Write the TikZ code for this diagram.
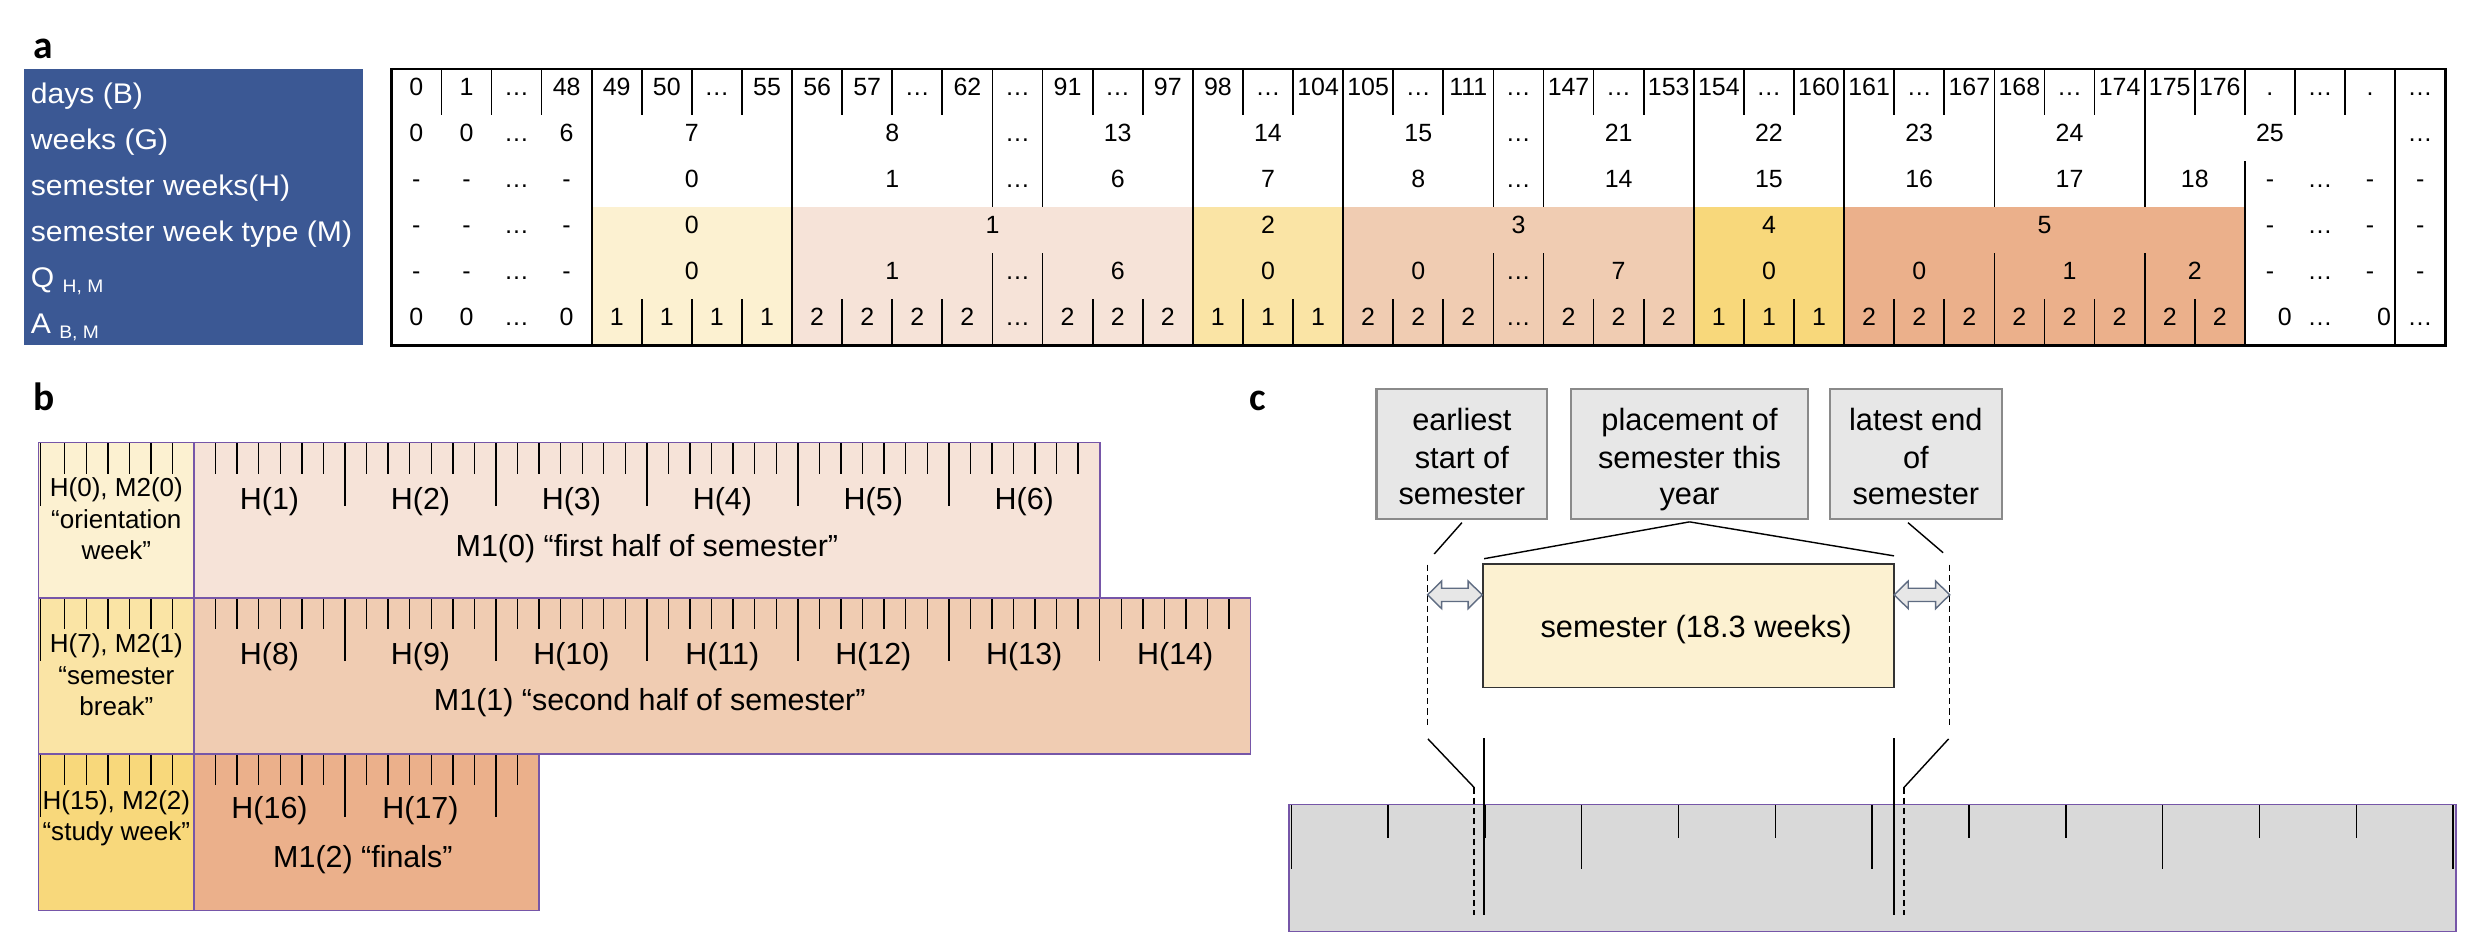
\documentclass[tikz,border=0pt]{standalone}
\usepackage{fontspec}
\setmainfont{Liberation Sans}
\newfontfamily\lblfont[FakeStretch=1.06]{Liberation Sans}
\newfontfamily\pnlfont{Carlito}
\definecolor{hdrblue}{RGB}{59,88,148}
\definecolor{cMa}{RGB}{252,241,209}
\definecolor{cMb}{RGB}{246,227,216}
\definecolor{cMc}{RGB}{250,228,165}
\definecolor{cMd}{RGB}{240,204,178}
\definecolor{cMe}{RGB}{248,216,123}
\definecolor{cMf}{RGB}{235,176,139}
\definecolor{rulerpurple}{RGB}{118,86,168}
\definecolor{boxgray}{RGB}{231,231,231}
\definecolor{boxedge}{RGB}{138,138,138}
\definecolor{rulergray}{RGB}{217,217,217}
\definecolor{arrowedge}{RGB}{95,108,130}
\begin{document}
\begin{tikzpicture}[x=1pt,y=-1pt,
  tline/.style={line width=1.1pt, black},
  cellt/.style={anchor=base, inner sep=0pt, font=\fontsize{15.8}{18}\selectfont},
  rowlbl/.style={anchor=base west, inner sep=0pt, text=white, font=\lblfont\fontsize{18}{20}\selectfont},
  plabel/.style={anchor=base west, inner sep=0pt, font=\pnlfont\bfseries\fontsize{25}{25}\selectfont},
  btxt/.style={anchor=base, inner sep=0pt, font=\fontsize{19.3}{22}\selectfont},
  bsmall/.style={anchor=base, inner sep=0pt, font=\fontsize{16.5}{20}\selectfont},
  daytick/.style={line width=0.9pt, black},
  stripedge/.style={draw=rulerpurple, line width=1pt},
  ctxt/.style={anchor=base, inner sep=0pt, font=\fontsize{19.5}{23}\selectfont},
  gbox/.style={draw=boxedge, fill=boxgray, line width=1.3pt, inner sep=0pt, rectangle},
  sembox/.style={draw=black!80, fill=cMa, line width=1pt, inner sep=0pt, rectangle},
  conn/.style={line width=0.9pt, black},
  dconn/.style={line width=0.8pt, black, dash pattern=on 4pt off 2.5pt},
  darrow/.style={fill=boxgray, draw=arrowedge, line width=0.9pt, line join=miter},
]
\useasboundingbox (0,0) rectangle (1568,594);
\def\W{31.75}
\def\TX{248}
\def\WW{95.667}
\def\DD{13.667}
% ---------------- panel a ----------------
\node[plabel] (pa) at (21,37) {a};
\fill[hdrblue] (15.2,43.7) rectangle (230.2,218.9);
\node[rowlbl] (l1) at (19.4,65.6) {days (B)};
\node[rowlbl] (l2) at (19.4,94.8) {weeks (G)};
\node[rowlbl] (l3) at (19.4,124) {semester weeks(H)};
\node[rowlbl] (l4) at (19.4,153.2) {semester week type (M)};
\node[rowlbl] (l5) at (19.4,182.4) {Q \raisebox{-3.2pt}{\fontsize{11.5}{12}\selectfont H, M}};
\node[rowlbl] (l6) at (19.4,211.6) {A \raisebox{-3.2pt}{\fontsize{11.5}{12}\selectfont B, M}};
% colour fills
\fill[cMa] ({\TX+4*\W},131.3) rectangle ({\TX+8*\W},218.9);
\fill[cMb] ({\TX+8*\W},131.3) rectangle ({\TX+16*\W},218.9);
\fill[cMc] ({\TX+16*\W},131.3) rectangle ({\TX+19*\W},218.9);
\fill[cMd] ({\TX+19*\W},131.3) rectangle ({\TX+26*\W},218.9);
\fill[cMe] ({\TX+26*\W},131.3) rectangle ({\TX+29*\W},218.9);
\fill[cMf] ({\TX+29*\W},131.3) rectangle ({\TX+37*\W},218.9);
% lines
\foreach \b in {4,8,16,19,26,29,40}
  \draw[tline] ({\TX+\b*\W},43.7) -- ({\TX+\b*\W},218.9);
\foreach \b in {12,13,22,23,32,35} {
  \draw[tline] ({\TX+\b*\W},43.7) -- ({\TX+\b*\W},131.3);
  \draw[tline] ({\TX+\b*\W},160.5) -- ({\TX+\b*\W},218.9);
}
\draw[tline] ({\TX+37*\W},43.7) -- ({\TX+37*\W},72.9);
\draw[tline] ({\TX+37*\W},102.1) -- ({\TX+37*\W},218.9);
\foreach \b in {1,2,3,38,39}
  \draw[tline] ({\TX+\b*\W},43.7) -- ({\TX+\b*\W},72.9);
\foreach \b in {5,6,7,9,10,11,14,15,17,18,20,21,24,25,27,28,30,31,33,34,36} {
  \draw[tline] ({\TX+\b*\W},43.7) -- ({\TX+\b*\W},72.9);
  \draw[tline] ({\TX+\b*\W},189.7) -- ({\TX+\b*\W},218.9);
}
\draw[line width=1.6pt] (\TX,43.7) rectangle ({\TX+41*\W},218.9);
% row texts
\foreach \t [count=\k from 0] in {0,1,…,48,49,50,…,55,56,57,…,62,…,91,…,97,98,…,104,105,…,111,…,147,…,153,154,…,160,161,…,167,168,…,174,175,176,.,…,.,…}
  \node[cellt] (d\k) at ({\TX+(\k+0.5)*\W},60.4) {\t};
\foreach \p/\t [count=\k] in {0.5/0,1.5/0,2.5/…,3.5/6,6/7,10/8,12.5/…,14.5/13,17.5/14,20.5/15,22.5/…,24.5/21,27.5/22,30.5/23,33.5/24,37.5/25,40.5/…}
  \node[cellt] (g\k) at ({\TX+\p*\W},89.6) {\t};
\foreach \p/\t [count=\k] in {0.5/-,1.5/-,2.5/…,3.5/-,6/0,10/1,12.5/…,14.5/6,17.5/7,20.5/8,22.5/…,24.5/14,27.5/15,30.5/16,33.5/17,36/18,37.5/-,38.5/…,39.5/-,40.5/-}
  \node[cellt] (h\k) at ({\TX+\p*\W},118.8) {\t};
\foreach \p/\t [count=\k] in {0.5/-,1.5/-,2.5/…,3.5/-,6/0,12/1,17.5/2,22.5/3,27.5/4,33/5,37.5/-,38.5/…,39.5/-,40.5/-}
  \node[cellt] (m\k) at ({\TX+\p*\W},148.0) {\t};
\foreach \p/\t [count=\k] in {0.5/-,1.5/-,2.5/…,3.5/-,6/0,10/1,12.5/…,14.5/6,17.5/0,20.5/0,22.5/…,24.5/7,27.5/0,30.5/0,33.5/1,36/2,37.5/-,38.5/…,39.5/-,40.5/-}
  \node[cellt] (q\k) at ({\TX+\p*\W},177.2) {\t};
\foreach \t [count=\k from 0] in {0,0,…,0,1,1,1,1,2,2,2,2,…,2,2,2,1,1,1,2,2,2,…,2,2,2,1,1,1,2,2,2,2,2,2,2,2}
  \node[cellt] (a\k) at ({\TX+(\k+0.5)*\W},206.4) {\t};
\foreach \p/\t [count=\k from 37] in {37.8/0,38.5/…,39.78/0,40.5/…}
  \node[cellt] (a\k) at ({\TX+\p*\W},206.4) {\t};
% ---------------- panel b ----------------
\node[plabel] (pb) at (21,260) {b};
\fill[cMa] (24.5,280.5) rectangle (123,379);
\fill[cMb] (123,280.5) rectangle (697,379);
\fill[cMc] (24.5,379) rectangle (123,478);
\fill[cMd] (123,379) rectangle (792.67,478);
\fill[cMe] (24.5,478) rectangle (123,577);
\fill[cMf] (123,478) rectangle (341.7,577);
\foreach \yT/\n in {280.5/6, 379/7} {
  \foreach \m in {1,...,\n} {
    \foreach \k in {1,...,6}
      \draw[daytick] ({123+(\m-1)*\WW+\k*\DD},\yT) -- ++(0,19.7);
    \draw[daytick] ({123+\m*\WW},\yT) -- ++(0,40);
  }
}
\foreach \m in {1,2} {
  \foreach \k in {1,...,6}
    \draw[daytick] ({123+(\m-1)*\WW+\k*\DD},478) -- ++(0,19.7);
  \draw[daytick] ({123+\m*\WW},478) -- ++(0,40);
}
\draw[daytick] ({123+2*\WW+\DD},478) -- ++(0,19.7);
\foreach \yT in {280.5,379,478} {
  \foreach \k in {1,...,6}
    \draw[daytick] ({123-\k*\DD},\yT) -- ++(0,19.7);
  \draw[daytick] (25.6,\yT) -- ++(0,40);
}
\draw[stripedge] (24.5,280.5) rectangle (697,379);
\draw[stripedge] (24.5,379) rectangle (792.67,478);
\draw[stripedge] (24.5,478) rectangle (341.7,577);
\draw[stripedge] (123,280.5) -- (123,577);
\foreach \m in {1,...,6}
  \node[btxt] (hb\m) at ({123+(\m-0.5)*\WW},322.6) {H(\m)};
\foreach \m [evaluate=\m as \hh using int(\m+7)] in {1,...,7}
  \node[btxt] (hb\hh) at ({123+(\m-0.5)*\WW},421.4) {H(\hh)};
\node[btxt] (hb16) at ({123+0.5*\WW},519) {H(16)};
\node[btxt] (hb17) at ({123+1.5*\WW},519) {H(17)};
\node[bsmall] (o1) at (73.75,314.6) {H(0), M2(0)};
\node[bsmall] (o2) at (73.75,335.1) {“orientation};
\node[bsmall] (o3) at (73.75,354.4) {week”};
\node[btxt] (m10) at (410,352.5) {M1(0) “first half of semester”};
\node[bsmall] (s1) at (73.75,413.4) {H(7), M2(1)};
\node[bsmall] (s2) at (73.75,433.9) {“semester};
\node[bsmall] (s3) at (73.75,453.2) {break”};
\node[btxt] (m11) at (411.8,450.2) {M1(1) “second half of semester”};
\node[bsmall] (w1) at (73.75,513.3) {H(15), M2(2)};
\node[bsmall] (w2) at (73.75,532.6) {“study week”};
\node[btxt] (m12) at (230,549.7) {M1(2) “finals”};
% ---------------- panel c ----------------
\node[plabel] (pc) at (791.5,260) {c};
\node[gbox, minimum width=108.3pt, minimum height=82.6pt] (cb1) at (926.55,287.8) {};
\node[gbox, minimum width=150.4pt, minimum height=82.6pt] (cb2) at (1070.8,287.8) {};
\node[gbox, minimum width=108.9pt, minimum height=82.6pt] (cb3) at (1214.25,287.8) {};
\node[ctxt] (t11) at (926.5,273) {earliest};
\node[ctxt] (t12) at (926.5,296.8) {start of};
\node[ctxt] (t13) at (926.5,320) {semester};
\node[ctxt] (t21) at (1070.8,273) {placement of};
\node[ctxt] (t22) at (1070.8,296.8) {semester this};
\node[ctxt] (t23) at (1070.8,320) {year};
\node[ctxt] (t31) at (1214.25,273) {latest end};
\node[ctxt] (t32) at (1214.25,296.8) {of};
\node[ctxt] (t33) at (1214.25,320) {semester};
\node[sembox, minimum width=260.5pt, minimum height=78.2pt] (sem) at (1070.25,396.5) {};
\node[ctxt] (semt) at (1075,404) {semester (18.3 weeks)};
% connectors from the boxes
\coordinate (e1) at (909,351.1);
\coordinate (e2) at (940.6,354.1);
\coordinate (e3) at (1200.4,352.3);
\coordinate (e4) at (1231.5,350.3);
\draw[conn] ([yshift=-1.5pt]cb1.south) -- (e1);
\draw[conn] ([yshift=-1pt]cb2.south) -- (e2);
\draw[conn] ([yshift=-1pt]cb2.south) -- (e3);
\draw[conn] ([xshift=-5pt,yshift=-1.5pt]cb3.south) -- (e4);
% dashed limits
\coordinate (dlA) at (904.8,357.9);
\coordinate (dlB) at (904.8,461.5);
\coordinate (drA) at (1235.7,357.9);
\coordinate (drB) at (1235.7,461.5);
\draw[dconn] (dlA) -- (dlB);
\draw[dconn] (drA) -- (drB);
% double arrows
\draw[darrow] (904.8,377) -- (913.7,368.25) -- (913.7,372.8) -- (930.5,372.8) -- (930.5,368.25) -- (939.4,377)
  -- (930.5,385.75) -- (930.5,381.2) -- (913.7,381.2) -- (913.7,385.75) -- cycle;
\draw[darrow] (1200.5,377) -- (1209.4,368.25) -- (1209.4,372.8) -- (1226.8,372.8) -- (1226.8,368.25) -- (1235.7,377)
  -- (1226.8,385.75) -- (1226.8,381.2) -- (1209.4,381.2) -- (1209.4,385.75) -- cycle;
% ruler
\fill[rulergray] (817,509.9) rectangle (1556.7,590.4);
\foreach \k in {0,...,12} {
  \pgfmathsetmacro\tl{mod(\k,3)==0 ? 41 : 21}
  \draw[daytick] ({818.4+\k*61.36},509.9) -- ++(0,\tl);
}
\draw[rulerpurple, line width=1.2pt] (817,509.9) rectangle (1556.7,590.4);
% lower guide lines
\coordinate (g1) at (905,468.3);
\coordinate (g2) at (934.2,499);
\coordinate (g3) at (934.2,580);
\coordinate (g4) at (940.6,468);
\coordinate (g5) at (940.6,580);
\coordinate (g6) at (1200.4,468);
\coordinate (g7) at (1200.4,580);
\coordinate (g8) at (1235,468.3);
\coordinate (g9) at (1206.8,499);
\coordinate (g10) at (1206.8,580);
\draw[conn] (g1) -- (g2);
\draw[dconn] (g2) -- (g3);
\draw[conn] (g4) -- (g5);
\draw[conn] (g6) -- (g7);
\draw[conn] (g8) -- (g9);
\draw[dconn] (g9) -- (g10);
\end{tikzpicture}
\end{document}
